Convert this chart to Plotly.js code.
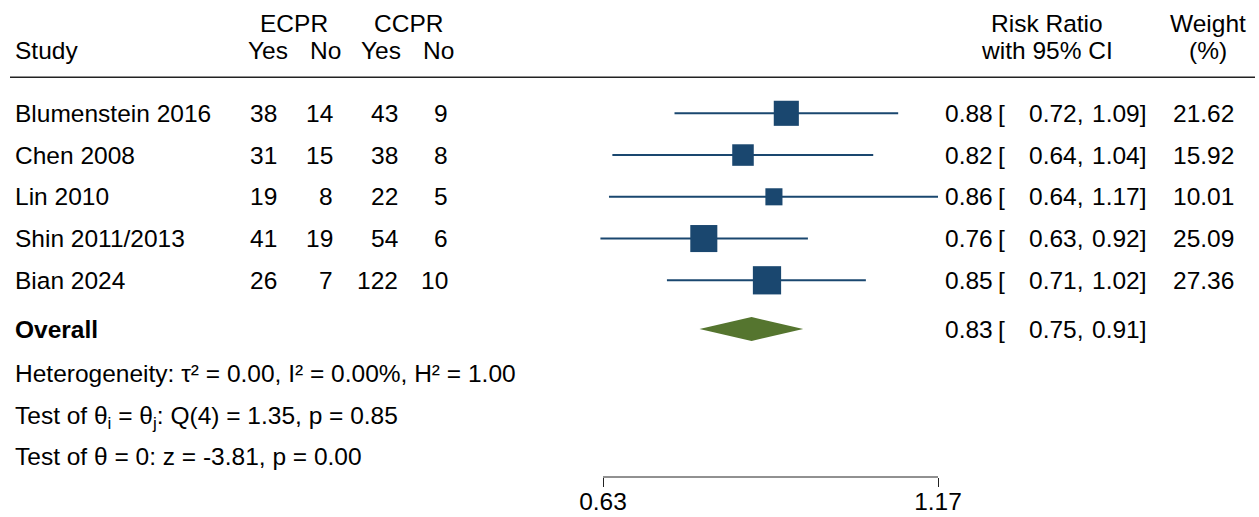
<!DOCTYPE html>
<html>
<head>
<meta charset="utf-8">
<script src="https://cdn.plot.ly/plotly-3.0.1.min.js"></script>
<style>html,body{margin:0;padding:0;background:#fff;}#chart{width:1259px;height:517px;}</style>
</head>
<body>
<div id="chart"></div>
<script>
// ---- data ----
const studies   = ['Blumenstein 2016', 'Chen 2008', 'Lin 2010', 'Shin 2011/2013', 'Bian 2024'];
const ecprYes   = [38, 31, 19, 41, 26];
const ecprNo    = [14, 15, 8, 19, 7];
const ccprYes   = [43, 38, 22, 54, 122];
const ccprNo    = [9, 8, 5, 6, 10];
const riskRatio = [0.884, 0.816, 0.864, 0.759, 0.853];
const ciLower   = [0.719, 0.641, 0.637, 0.627, 0.709];
const ciUpper   = [1.087, 1.038, 1.170, 0.920, 1.024];
const weights   = [21.62, 15.92, 10.01, 25.09, 27.36];
const overallRR = 0.829, overallLo = 0.753, overallHi = 0.912;
const tickVals  = [0.63, 1.17];
const tickText  = ['0.63', '1.17'];
const statLines = [
  'Heterogeneity: \u03c4\u00b2 = 0.00, I\u00b2 = 0.00%, H\u00b2 = 1.00',
  'Test of \u03b8<sub>i</sub> = \u03b8<sub>j</sub>: Q(4) = 1.35, p = 0.85',
  'Test of \u03b8 = 0: z = -3.81, p = 0.00'
];

// ---- layout constants ----
const W = 1259, H = 517;
const AX0 = 603, AX1 = 938;           // pixel positions of the two ticks
const PL = 590, PR = 950;             // plot area in pixels (x)
const PB = 477;                       // plot bottom in pixels
const ROW0 = 113.3, STEP = 41.75;     // row 0 pixel centre and row step
const NAVY = '#1a476f', GREEN = '#55752f';
const FONT = {family: 'Liberation Sans, Arial, Helvetica, sans-serif', size: 24.5, color: '#000'};
const px = p => (p - PL) / (PR - PL);
const n = studies.length;
const yOverall = 5.167, yStats = [6.228, 7.227, 8.225];
const yHead1 = -2.156, yHead2 = -1.504, yRule = -0.862;

// log axis range so that tick values land on AX0/AX1
const l0 = Math.log10(tickVals[0]), l1 = Math.log10(tickVals[1]);
const perPx = (l1 - l0) / (AX1 - AX0);
const xRange = [l0 - (AX0 - PL) * perPx, l1 + (PR - AX1) * perPx];
const toPaper = v => (Math.log10(v) - xRange[0]) / (xRange[1] - xRange[0]);

// ---- traces ----
const ciX = [], ciY = [];
for (let i = 0; i < n; i++) { ciX.push(ciLower[i], ciUpper[i], null); ciY.push(i, i, null); }
const idx = studies.map((_, i) => i);

const traces = [
  {type: 'scatter', mode: 'lines', x: ciX, y: ciY, line: {color: NAVY, width: 2}, hoverinfo: 'skip', showlegend: false},
  {type: 'scatter', mode: 'markers', x: riskRatio, y: idx,
   marker: {symbol: 'square', color: NAVY, opacity: 1, size: weights.map(w => 5.4 * Math.sqrt(w)), line: {width: 0}},
   hoverinfo: 'skip', showlegend: false},
  {type: 'scatter', mode: 'lines', fill: 'toself', fillcolor: GREEN,
   x: [overallLo, overallRR, overallHi, overallRR, overallLo],
   y: [yOverall, yOverall - 0.287, yOverall, yOverall + 0.287, yOverall],
   line: {width: 0, color: GREEN}, hoverinfo: 'skip', showlegend: false}
];

// ---- annotations ----
const ann = [];
function t(text, xpx, y, anchor, yshift) {
  ann.push({text: text, x: px(xpx), y: y, xref: 'paper', yref: 'y', xanchor: anchor, yanchor: 'middle',
            yshift: yshift || 0, borderpad: 0, borderwidth: 0,
            showarrow: false, font: FONT});
}
// headers
t('ECPR', 294, yHead1, 'center');
t('CCPR', 408, yHead1, 'center');
t('Study', 15, yHead2, 'left');
t('Yes', 288, yHead2, 'right');
t('No', 341, yHead2, 'right');
t('Yes', 401, yHead2, 'right');
t('No', 454, yHead2, 'right');
t('Risk Ratio', 1047, yHead1, 'center');
t('with 95% CI', 1047, yHead2, 'center');
t('Weight', 1208, yHead1, 'center');
t('(%)', 1208, yHead2, 'center');
// study rows
for (let i = 0; i < n; i++) {
  t(studies[i], 15, i, 'left');
  t(String(ecprYes[i]), 277, i, 'right');
  t(String(ecprNo[i]), 333, i, 'right');
  t(String(ccprYes[i]), 398, i, 'right');
  t(String(ccprNo[i]), 448, i, 'right');
  t(riskRatio[i].toFixed(2), 993, i, 'right');
  t('[', 998, i, 'left');
  t(ciLower[i].toFixed(2) + ',', 1084, i, 'right');
  t(ciUpper[i].toFixed(2) + ']', 1147, i, 'right');
  t(weights[i].toFixed(2), 1234, i, 'right');
}
// overall
t('<b>Overall</b>', 15, yOverall, 'left');
t(overallRR.toFixed(2), 993, yOverall, 'right');
t('[', 998, yOverall, 'left');
t(overallLo.toFixed(2) + ',', 1084, yOverall, 'right');
t(overallHi.toFixed(2) + ']', 1147, yOverall, 'right');
// stats
statLines.forEach((s, k) => t(s, 15, yStats[k], 'left', k === 1 ? -2 : 0));

const layout = {
  width: W, height: H,
  margin: {l: PL, r: W - PR, t: 0, b: H - PB, pad: 0},
  paper_bgcolor: '#fff', plot_bgcolor: '#fff',
  font: FONT,
  showlegend: false,
  xaxis: {type: 'log', range: xRange,
          showline: false,
          ticks: 'outside', ticklen: 9, tickwidth: 1, tickcolor: '#222',
          tickvals: tickVals, ticktext: tickText, tickfont: FONT, ticklabelstandoff: -6,
          showgrid: false, zeroline: false, fixedrange: true},
  yaxis: {range: [(PB - ROW0) / STEP, -ROW0 / STEP], visible: false, fixedrange: true,
          showgrid: false, zeroline: false},
  shapes: [
    {type: 'line', xref: 'paper', yref: 'y', x0: px(10), x1: px(1255), y0: yRule, y1: yRule,
     line: {color: '#222', width: 1.5}},
    {type: 'line', xref: 'paper', yref: 'paper', x0: toPaper(tickVals[0]), x1: toPaper(tickVals[1]), y0: 0, y1: 0,
     line: {color: '#222', width: 1}}
  ],
  annotations: ann
};

Plotly.newPlot('chart', traces, layout, {staticPlot: true, displayModeBar: false});
</script>
</body>
</html>
